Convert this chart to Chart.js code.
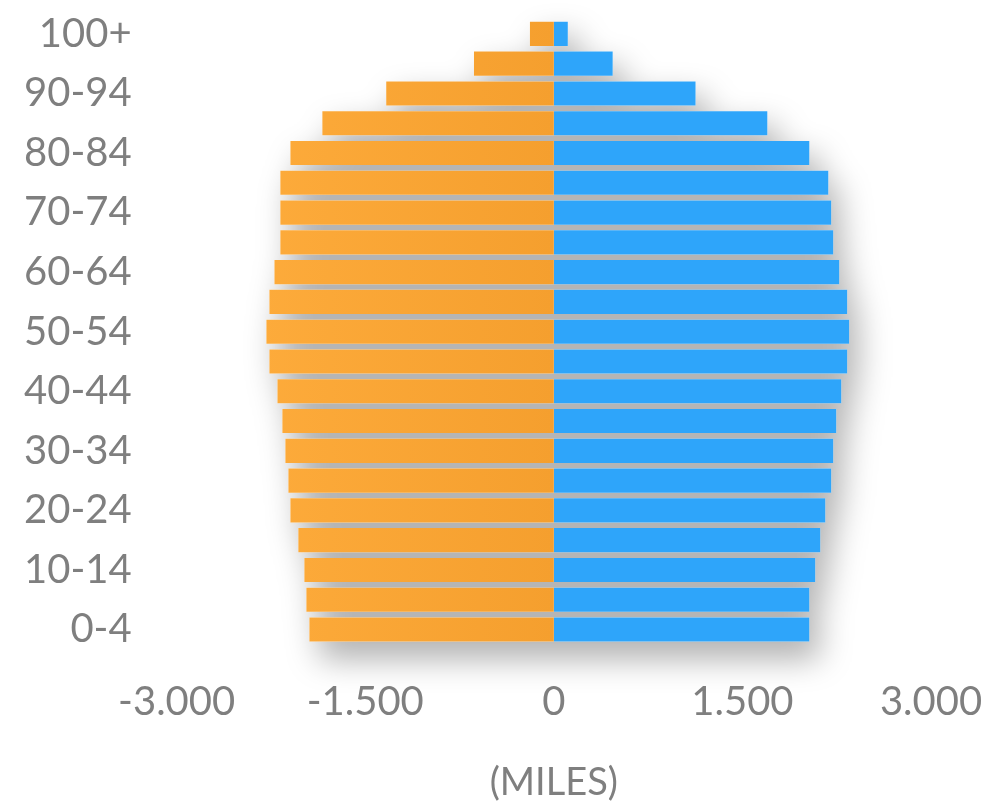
<!DOCTYPE html>
<html>
<head>
<meta charset="utf-8">
<script src="https://cdn.jsdelivr.net/npm/chart.js@4/dist/chart.umd.min.js"></script>
<style>
  html, body { margin: 0; padding: 0; background: #fff; }
  #wrap { width: 985px; height: 810px; }
</style>
</head>
<body>
<div id="wrap"><canvas id="pyramid"></canvas></div>
<script>
// age groups, top to bottom
const ageGroups = ['100+', '95-99', '90-94', '85-89', '80-84', '75-79', '70-74',
  '65-69', '60-64', '55-59', '50-54', '45-49', '40-44', '35-39', '30-34',
  '25-29', '20-24', '15-19', '10-14', '5-9', '0-4'];

// thousands, left side (drawn negative)
const leftValues = [190, 635, 1333, 1841, 2095, 2175, 2175, 2175, 2222, 2262, 2286,
  2262, 2198, 2159, 2135, 2111, 2095, 2032, 1984, 1968, 1944];

// thousands, right side
const rightValues = [111, 468, 1127, 1698, 2032, 2183, 2206, 2222, 2270, 2333, 2349,
  2333, 2286, 2246, 2222, 2206, 2159, 2119, 2079, 2032, 2032];

const xTicks = [-3000, -1500, 0, 1500, 3000];
const axisTitle = '(MILES)';

const GREY = '#7f7f7f';
const FONT = { family: 'Lato', size: 40, lineHeight: 1.2 };

// soft drop shadow under all bars, drawn once as one path
const barShadow = {
    id: 'barShadow',
    beforeDatasetsDraw(chart) {
        const ctx = chart.ctx;
        ctx.save();
        ctx.shadowColor = 'rgba(0, 0, 0, 0.36)';
        ctx.shadowBlur = 32;
        ctx.shadowOffsetX = 10;
        ctx.shadowOffsetY = 16;
        ctx.fillStyle = '#fff';
        ctx.beginPath();
        chart.data.datasets.forEach((ds, i) => {
            chart.getDatasetMeta(i).data.forEach(bar => {
                const p = bar.getProps(['x', 'y', 'base', 'height'], true);
                const left = Math.min(p.x, p.base);
                ctx.rect(left, p.y - p.height / 2, Math.abs(p.x - p.base), p.height);
            });
        });
        ctx.fill();
        ctx.restore();
    }
};

function orangeFill(context) {
    const area = context.chart.chartArea;
    if (!area) return '#F8A331';
    const g = context.chart.ctx.createLinearGradient(area.left + 80, 0, (area.left + area.right) / 2, 0);
    g.addColorStop(0, '#FDAB3B');
    g.addColorStop(1, '#F59F2E');
    return g;
}

new Chart(document.getElementById('pyramid'), {
    type: 'bar',
    data: {
        labels: ageGroups,
        datasets: [
            {
                label: 'left',
                data: leftValues.map(v => -v),
                backgroundColor: orangeFill,
                barPercentage: 0.81,
                categoryPercentage: 1
            },
            {
                label: 'right',
                data: rightValues,
                backgroundColor: '#2EA5FA',
                barPercentage: 0.81,
                categoryPercentage: 1
            }
        ]
    },
    plugins: [barShadow],
    options: {
        indexAxis: 'y',
        responsive: true,
        maintainAspectRatio: false,
        animation: false,
        layout: { padding: { top: 19, left: 24, right: 54, bottom: 4 } },
        plugins: {
            legend: { display: false },
            tooltip: { enabled: false }
        },
        scales: {
            x: {
                stacked: true,
                min: -3000,
                max: 3000,
                afterBuildTicks: axis => { axis.ticks = xTicks.map(v => ({ value: v })); },
                // tick padding gets counted twice and added to the side margins
                afterFit: axis => {
                    axis.paddingLeft = 0;
                    axis.paddingRight = 0;
                    axis.height -= axis.options.ticks.padding;
                },
                grid: { display: false, drawTicks: false },
                border: { display: false },
                ticks: {
                    color: GREY,
                    font: FONT,
                    padding: 34,
                    maxRotation: 0,
                    callback: v => v.toLocaleString('de-DE')
                },
                title: {
                    display: true,
                    text: axisTitle,
                    color: GREY,
                    font: { family: 'Lato', size: 38, lineHeight: 1.2 },
                    padding: { top: 34, bottom: 0 }
                }
            },
            y: {
                stacked: true,
                afterFit: axis => {
                    axis.paddingTop = 0;
                    axis.paddingBottom = 0;
                    axis.width -= axis.options.ticks.padding;
                },
                grid: { display: false, drawTicks: false },
                border: { display: false },
                ticks: {
                    color: GREY,
                    font: FONT,
                    padding: 45,
                    autoSkip: false,
                    callback: (v, i) => i % 2 === 0 ? ageGroups[i] : ''
                }
            }
        }
    }
});
</script>
</body>
</html>
